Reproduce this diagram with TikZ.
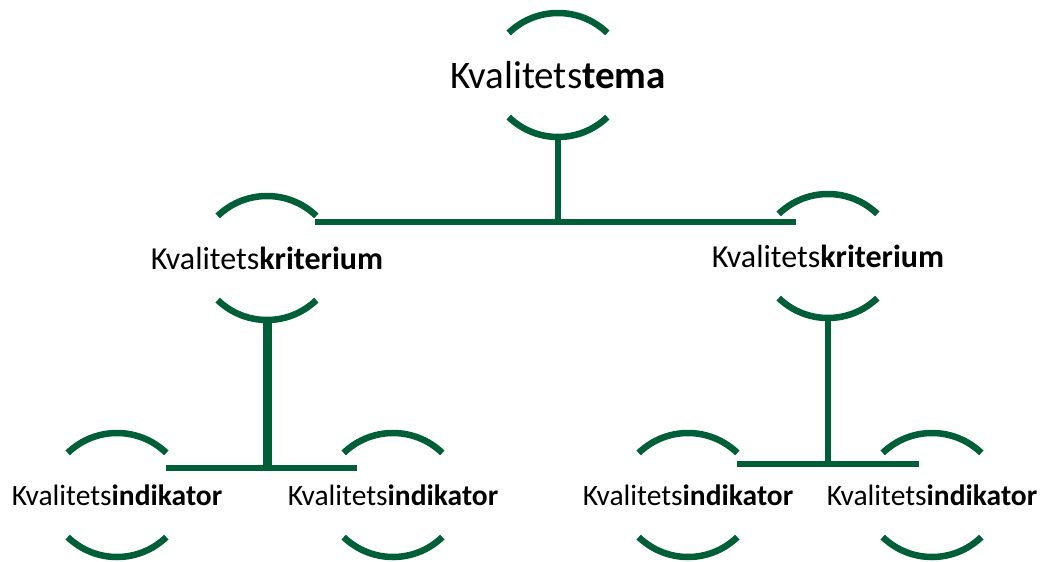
\documentclass[tikz,border=0pt]{standalone}
\usepackage{fontspec}
\setmainfont{Carlito}
\definecolor{kvgreen}{RGB}{0,94,56}
\tikzset{
  kvnode/.style={minimum height=124pt,inner sep=0pt},
  ring/.style={draw=kvgreen,line width=6.5pt},
  bar/.style={draw=kvgreen,line width=6pt},
}
\begin{document}
\begin{tikzpicture}[x=1pt,y=1pt]
\useasboundingbox (0,0) rectangle (1044,-562);

\node (tema) at (558,-75) [kvnode,font=\fontsize{39}{41}\selectfont] {Kvalitets\textbf{tema}};

\node (kritA) at (267,-258) [kvnode,font=\fontsize{32}{34}\selectfont] {Kvalitets\textbf{kriterium}};
\node (kritB) at (828,-256) [kvnode,font=\fontsize{32}{34}\selectfont] {Kvalitets\textbf{kriterium}};

\node (indA1) at (117,-495) [kvnode,font=\fontsize{29.5}{31}\selectfont] {Kvalitets\textbf{indikator}};
\node (indA2) at (393,-495) [kvnode,font=\fontsize{29.5}{31}\selectfont] {Kvalitets\textbf{indikator}};
\node (indB1) at (688,-495) [kvnode,font=\fontsize{29.5}{31}\selectfont] {Kvalitets\textbf{indikator}};
\node (indB2) at (932,-495) [kvnode,font=\fontsize{29.5}{31}\selectfont] {Kvalitets\textbf{indikator}};

% arcs above and below each label
\draw[ring] (tema.center) ++(0,-9) ++(46:71) arc (46:134:71);
\draw[ring] (tema.center) ++(0,9) ++(226:71) arc (226:314:71);
\draw[ring] (kritA.center) ++(0,-9) ++(46:71) arc (46:134:71);
\draw[ring] (kritA.center) ++(0,9) ++(226:71) arc (226:314:71);
\draw[ring] (kritB.center) ++(0,-9) ++(46:71) arc (46:134:71);
\draw[ring] (kritB.center) ++(0,9) ++(226:71) arc (226:314:71);
\draw[ring] (indA1.center) ++(0,-9) ++(46:71) arc (46:134:71);
\draw[ring] (indA1.center) ++(0,9) ++(226:71) arc (226:314:71);
\draw[ring] (indA2.center) ++(0,-9) ++(46:71) arc (46:134:71);
\draw[ring] (indA2.center) ++(0,9) ++(226:71) arc (226:314:71);
\draw[ring] (indB1.center) ++(0,-9) ++(46:71) arc (46:134:71);
\draw[ring] (indB1.center) ++(0,9) ++(226:71) arc (226:314:71);
\draw[ring] (indB2.center) ++(0,-9) ++(46:71) arc (46:134:71);
\draw[ring] (indB2.center) ++(0,9) ++(226:71) arc (226:314:71);

\coordinate (topL) at (315,-222);
\coordinate (topR) at (796,-222);
\coordinate (leftL) at (166,-467.5);
\coordinate (leftR) at (357,-467.5);
\coordinate (rightL) at (737,-464);
\coordinate (rightR) at (919,-464);

\draw[bar] (topL) -- (topR);
\draw[bar] (tema.south) -- (tema.south |- topL);

\draw[bar] (leftL) -- (leftR);
\draw[bar,line width=9pt] (kritA.south) -- (kritA.south |- leftL);

\draw[bar] (rightL) -- (rightR);
\draw[bar] (kritB.south) -- (kritB.south |- rightL);

\end{tikzpicture}
\end{document}
